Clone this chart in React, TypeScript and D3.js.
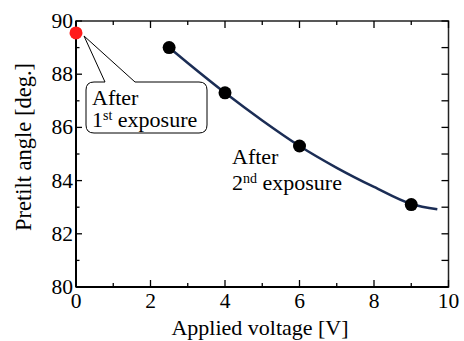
import React from 'react'
import * as d3 from 'd3'

// measured points (after 2nd exposure)
const voltage = [2.5, 4, 6, 9]
const pretilt = [89.0, 87.3, 85.3, 83.1]
// point after 1st exposure
const firstVoltage = [0]
const firstPretilt = [89.55]
// fitted curve
const fitVoltage = [2.5, 3, 4, 5, 6, 7, 8, 9, 9.7]
const fitPretilt = [89.0, 88.42, 87.3, 86.26, 85.3, 84.48, 83.76, 83.12, 82.92]

const xMajor = [0, 2, 4, 6, 8, 10]
const xMinor = [1, 3, 5, 7, 9]
const yMajor = [80, 82, 84, 86, 88, 90]
const yMinor = [81, 83, 85, 87, 89]

const W = 464
const H = 341
const margin = { top: 21, right: 15.5, bottom: 54, left: 76 }
const tf = { fontFamily: 'Liberation Serif' }

export default function App() {
  const x = d3.scaleLinear().domain([0, 10]).range([margin.left, W - margin.right])
  const y = d3.scaleLinear().domain([80, 90]).range([H - margin.bottom, margin.top])
  const x0 = x(0), x1 = x(10), y0 = y(80), y1 = y(90)

  const fit = fitVoltage.map((v, i) => [v, fitPretilt[i]] as [number, number])
  const line = d3.line<[number, number]>()
    .x(d => x(d[0]))
    .y(d => y(d[1]))
    .curve(d3.curveMonotoneX)

  // callout box for the first exposure point
  const bx = 86, by = 82, bw = 121, bh = 51, r = 8
  const px = x(firstVoltage[0]) + 8, py = y(firstPretilt[0]) + 3
  const callout = `M${bx + r},${by} L105,${by} L${px},${py} L135,${by} L${bx + bw - r},${by}
    Q${bx + bw},${by} ${bx + bw},${by + r} L${bx + bw},${by + bh - r}
    Q${bx + bw},${by + bh} ${bx + bw - r},${by + bh} L${bx + r},${by + bh}
    Q${bx},${by + bh} ${bx},${by + bh - r} L${bx},${by + r} Q${bx},${by} ${bx + r},${by} Z`

  return (
    <svg width={W} height={H} style={{ position: 'absolute', left: 0, top: 0, background: '#fff' }}>
      {/* frame */}
      <rect x={x0} y={y1} width={x1 - x0} height={y0 - y1} fill="none" stroke="#222" strokeWidth={1.5} />
      <line x1={x0} x2={x1} y1={y0} y2={y0} stroke="#000" strokeWidth={2} />
      <line x1={x0} x2={x0} y1={y0} y2={y1} stroke="#000" strokeWidth={2} />

      {/* x ticks, bottom + top, inward */}
      {xMajor.map(v => (
        <g key={'xm' + v}>
          <line x1={x(v)} x2={x(v)} y1={y0} y2={y0 - 7} stroke="#000" strokeWidth={1.3} />
          <line x1={x(v)} x2={x(v)} y1={y1} y2={y1 + 7} stroke="#000" strokeWidth={1.3} />
          <text x={x(v)} y={y0 + 21} textAnchor="middle" fontSize={21.5} style={tf}>{v}</text>
        </g>
      ))}
      {xMinor.map(v => (
        <g key={'xn' + v}>
          <line x1={x(v)} x2={x(v)} y1={y0} y2={y0 - 4} stroke="#000" strokeWidth={1.3} />
          <line x1={x(v)} x2={x(v)} y1={y1} y2={y1 + 4} stroke="#000" strokeWidth={1.3} />
        </g>
      ))}

      {/* y ticks, left + right, inward */}
      {yMajor.map(v => (
        <g key={'ym' + v}>
          <line x1={x0} x2={x0 + 6} y1={y(v)} y2={y(v)} stroke="#000" strokeWidth={1.3} />
          <line x1={x1} x2={x1 - 7} y1={y(v)} y2={y(v)} stroke="#000" strokeWidth={1.3} />
          <text x={x0 - 3} y={y(v) + 7} textAnchor="end" fontSize={21.5} style={tf}>{v}</text>
        </g>
      ))}
      {yMinor.map(v => (
        <g key={'yn' + v}>
          <line x1={x0} x2={x0 + 3.5} y1={y(v)} y2={y(v)} stroke="#000" strokeWidth={1.3} />
          <line x1={x1} x2={x1 - 7} y1={y(v)} y2={y(v)} stroke="#000" strokeWidth={1.3} />
        </g>
      ))}

      {/* axis titles */}
      <text x={260} y={335} textAnchor="middle" fontSize={22} style={tf}>Applied voltage [V]</text>
      <text transform="translate(31,147) rotate(-90)" textAnchor="middle" fontSize={22.5} style={tf}>
        Pretilt angle [deg.]
      </text>

      {/* fitted curve */}
      <path d={line(fit) ?? ''} fill="none" stroke="#1b2d55" strokeWidth={2.5} />

      {voltage.map((v, i) => (
        <circle key={'p' + i} cx={x(v)} cy={y(pretilt[i])} r={6.5} fill="#000" />
      ))}

      {/* callout */}
      <path d={callout} fill="#fff" stroke="#000" strokeWidth={1} />
      {firstVoltage.map((v, i) => (
        <circle key={'f' + i} cx={x(v)} cy={y(firstPretilt[i])} r={6.5} fill="#ff1a1a" />
      ))}
      <text x={92} y={105} fontSize={22} style={tf}>After</text>
      <text x={92} y={127} fontSize={22} style={tf}>
        1<tspan fontSize={14} dy={-7.5}>st</tspan><tspan dy={7.5}> exposure</tspan>
      </text>

      <text x={232} y={164} fontSize={22} style={tf}>After</text>
      <text x={232} y={190} fontSize={22} style={tf}>
        2<tspan fontSize={14} dy={-7.5}>nd</tspan><tspan dy={7.5}> exposure</tspan>
      </text>
    </svg>
  )
}
